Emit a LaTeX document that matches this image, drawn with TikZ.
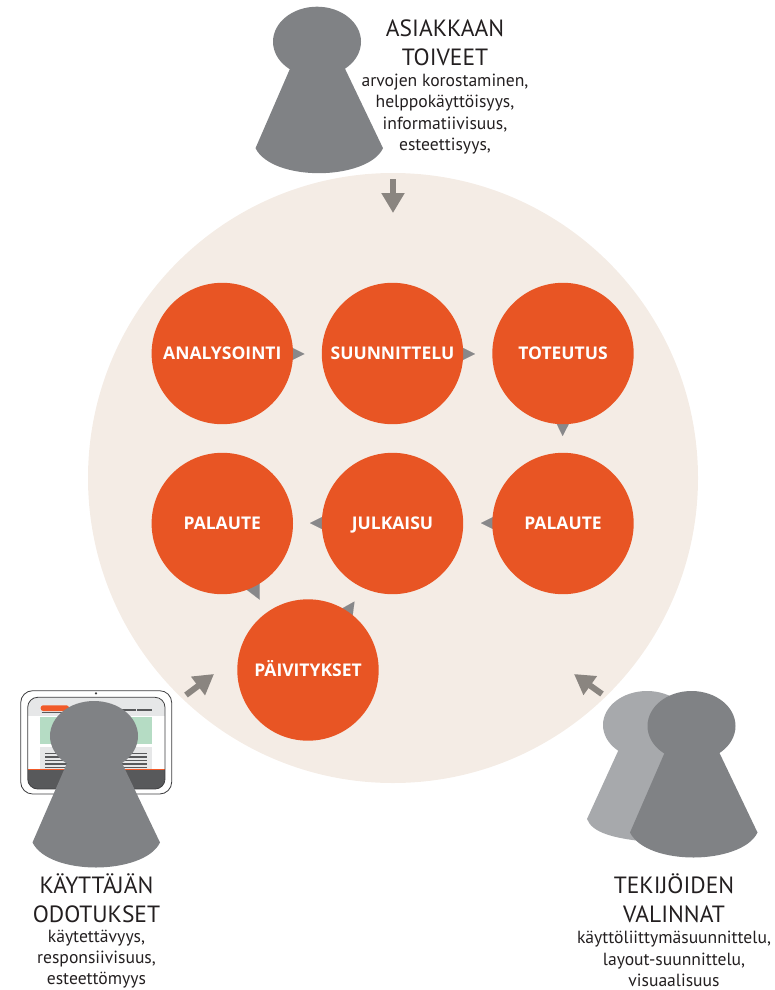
\documentclass[tikz,border=0pt]{standalone}
\usepackage{fontspec}
\setmainfont{PT Sans}
\newfontfamily\labelfont{Open Sans}
\usetikzlibrary{arrows.meta}
\pgfdeclarelayer{back}
\pgfdeclarelayer{mid}
\pgfsetlayers{back,mid,main}
\definecolor{disc}{HTML}{F4ECE5}
\definecolor{orangec}{HTML}{E85524}
\definecolor{pawnc}{HTML}{808285}
\definecolor{pawnl}{HTML}{A7A9AC}
\definecolor{arrowc}{HTML}{8A8580}
\definecolor{trigc}{HTML}{88888A}
\definecolor{inkc}{HTML}{231F20}
\definecolor{darkc}{HTML}{58595B}
\definecolor{lightc}{HTML}{E6E7E8}
\definecolor{greenc}{HTML}{B5DCC4}
\definecolor{buttonc}{HTML}{F15A29}
\tikzset{
  x=1pt,y=-1pt,
  stage/.style={circle,fill=orangec,minimum size=141.4pt,inner sep=0pt,text=white,text height=12.5pt,text depth=0pt,font=\labelfont\fontsize{17.5}{20}\selectfont\bfseries},
  conn/.style={draw=trigc,line width=0.01pt,-{Triangle[length=15pt,width=15pt,fill=trigc]}},
  bigarrow/.style={draw=arrowc,line width=6pt,-{Triangle[length=20pt,width=22pt,fill=arrowc]}},
  headtext/.style={text=inkc,align=center,inner sep=0pt,font=\fontsize{23.5}{29}\selectfont},
  subtext/.style={text=inkc,align=center,inner sep=0pt,font=\fontsize{17.6}{21.4}\selectfont},
  pics/pawn/.style={code={
    \fill[#1] (0,0) ellipse [x radius=44pt,y radius=35pt];
    \fill[#1] (-27,27) -- (28,27) -- (66,106.5)
      .. controls (58,123.5) and (28,131.5) .. (2,131.5)
      .. controls (-25,131.5) and (-53,123.5) .. (-61.5,106.5) -- cycle;
  }}
}
\begin{document}
\begin{tikzpicture}
\useasboundingbox (0,0) rectangle (775,990);
\begin{pgfonlayer}{back}
\fill[disc] (393,478) circle [radius=305pt];
\end{pgfonlayer}

% stages
\node[stage] (an) at (222.3,353.5) {ANALYSOINTI};
\node[stage] (su) at (392.5,353.5) {SUUNNITTELU};
\node[stage] (to) at (563,353.5) {TOTEUTUS};
\node[stage] (pa2) at (222.3,523.5) {PALAUTE};
\node[stage] (ju) at (392.5,523.5) {JULKAISU};
\node[stage] (pa1) at (563,523.5) {PALAUTE};
\node[stage] (pv) at (308,670) {PÄIVITYKSET};

% small connector tips
\coordinate (t1) at (304.5,354);
\coordinate (t2) at (475,354);
\coordinate (t3) at (562.7,436);
\coordinate (t4) at (481,523);
\coordinate (t5) at (310,523);
\coordinate (t6) at (259.5,599.5);
\coordinate (t7) at (354.5,601.5);
\begin{pgfonlayer}{mid}
\draw[conn] (an) -- (t1);
\draw[conn] (su) -- (t2);
\draw[conn] (to) -- (t3);
\draw[conn] (pa1) -- (t4);
\draw[conn] (ju) -- (t5);
\draw[conn] (pa2) -- (t6);
\draw[conn] (pv) -- (t7);
\end{pgfonlayer}

% big arrows
\coordinate (d0) at (393,179); \coordinate (d1) at (393,213);
\coordinate (l0) at (186,695); \coordinate (l1) at (214,674);
\coordinate (r0) at (602,694); \coordinate (r1) at (574,674);
\draw[bigarrow] (d0) -- (d1);
\draw[bigarrow] (l0) -- (l1);
\draw[bigarrow] (r0) -- (r1);

% tablet
\draw[fill=white,draw=darkc!70!black,line width=0.8pt,rounded corners=12pt] (20.7,690.7) rectangle (171.7,794);
\fill[darkc!70!black] (96,693.3) circle [radius=1.2pt];
\begin{scope}
\clip[rounded corners=10pt] (27.7,697.3) rectangle (165,789);
\fill[lightc] (27.7,697.3) rectangle (165,715.7);
\fill[greenc] (40,716.7) rectangle (152.3,744);
\fill[lightc] (40,747) rectangle (152.3,769);
\foreach \yy in {753.5,757,760.5,764,767.3}
  \fill[darkc] (45,\yy-0.7) rectangle (147.3,\yy+0.7);
\fill[darkc] (27.7,769) rectangle (165,789);
\fill[buttonc] (27.7,768.8) rectangle (165,770);
\end{scope}
\draw[darkc!70!black,line width=0.8pt,rounded corners=10pt] (27.7,697.3) rectangle (165,789);
\fill[buttonc,rounded corners=2.5pt] (40.7,705.3) rectangle (69,711);
\draw[darkc,line width=0.6pt] (41.5,712.4) -- (68,712.4);
\fill[darkc] (121.7,709) rectangle (135.7,710.6);
\fill[darkc] (137.3,709) rectangle (151.7,710.6);

% people
\pic at (94,736) {pawn=pawnc};
\pic at (317,41.7) {pawn=pawnc};
\fill[pawnl] (647,725) ellipse [x radius=44pt,y radius=34pt];
\fill[pawnl] (619,749) -- (672,749) -- (672,840) -- (640,841)
  .. controls (615,838) and (592,833) .. (587,819) -- cycle;
\pic at (691.5,726) {pawn=pawnc};

% texts
\node[headtext] (h1) at (445,43) {ASIAKKAAN\\TOIVEET};
\node[subtext] (s1) at (445,114) {arvojen korostaminen,\\helppokäyttöisyys,\\informatiivisuus,\\esteettisyys,};
\node[headtext] (h2) at (96.5,898.5) {KÄYTTÄJÄN\\ODOTUKSET};
\node[subtext] (s2) at (96.5,959) {käytettävyys,\\responsiivisuus,\\esteettömyys};
\node[headtext] (h3) at (674,898.5) {TEKIJÖIDEN\\VALINNAT};
\node[subtext] (s3) at (674,959) {käyttöliittymäsuunnittelu,\\layout-suunnittelu,\\visuaalisuus};
\end{tikzpicture}
\end{document}
